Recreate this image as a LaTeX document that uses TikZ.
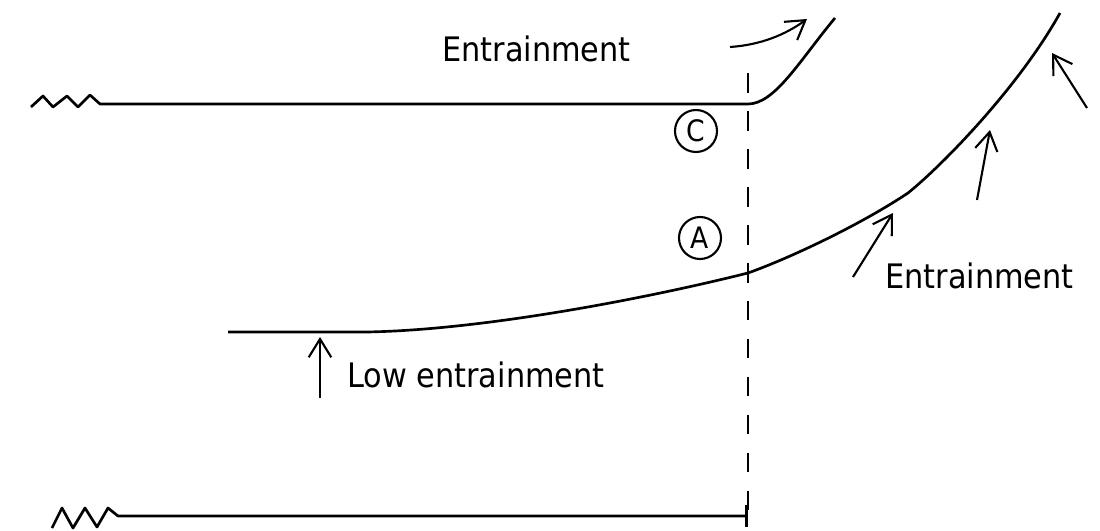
\documentclass[tikz,border=0pt]{standalone}
\usepackage{fontspec}
\setmainfont{DejaVu Sans Condensed}
\usetikzlibrary{arrows.meta}
\begin{document}
\begin{tikzpicture}[x=0.025cm,y=-0.025cm,
  flow/.style={line width=1.9pt,line join=round},
  wind/.style={line width=1.5pt,-{Straight Barb[length=13pt,width=16pt,line width=1.5pt]}},
  wordlabel/.style={font=\fontsize{24}{28}\selectfont,anchor=base west,inner sep=0pt},
  ringmark/.style={circle,draw,line width=1.5pt,minimum size=1.05cm,inner sep=0pt,font=\fontsize{21}{24}\selectfont}]
  \useasboundingbox (0,0) rectangle (1100,531);

  % upper edge with its bend at C
  \coordinate (bendC) at (748,104);
  \coordinate (tipC) at (835,18);
  \draw[flow] (31,107) -- (43,96) -- (53,107) -- (67,96) -- (78,107) -- (90,95) -- (100,104)
    -- (bendC) .. controls (775,104) and (800,60) .. (tipC);

  % lower edge, slowly rising, then bending up
  \coordinate (startA) at (228,332);
  \coordinate (crossA) at (748,273);
  \coordinate (kinkA) at (908,193);
  \coordinate (tipA) at (1060,13);
  \draw[flow] (startA) -- (367,332) .. controls (480,330) and (640,300) .. (crossA)
    .. controls (790,258) and (860,225) .. (kinkA)
    .. controls (945,163) and (1020,85) .. (tipA);

  % floor
  \coordinate (wallend) at (748,516);
  \draw[flow,-{Bar[width=15pt,line width=1.9pt]}] (52,528) -- (62,508) -- (73,528) -- (85,508)
    -- (97,527) -- (108,508) -- (118,516) -- (wallend);

  % section line
  \draw[flow,dash pattern=on 14pt off 13pt] (748,73) -- (wallend);

  \node[ringmark] (C) at (696,131) {C};
  \node[ringmark] (A) at (700,238) {A};

  \node[wordlabel] (entrtop) at (442,62) {Entrainment};
  \node[wordlabel] (entrright) at (885,288) {Entrainment};
  \node[wordlabel] (lowentr) at (347,387) {Low entrainment};

  % entrainment arrows
  \coordinate (w1) at (730,47);   \coordinate (w1t) at (807,19);
  \coordinate (w2) at (853,277);  \coordinate (w2t) at (893,213);
  \coordinate (w3) at (977,200);  \coordinate (w3t) at (990,130);
  \coordinate (w4) at (1087,108); \coordinate (w4t) at (1052,53);
  \coordinate (w5) at (320,398);  \coordinate (w5t) at (320,337);
  \draw[wind] (w1) .. controls (760,45) and (785,35) .. (w1t);
  \draw[wind] (w2) -- (w2t);
  \draw[wind] (w3) -- (w3t);
  \draw[wind] (w4) -- (w4t);
  \draw[wind] (w5) -- (w5t);
\end{tikzpicture}
\end{document}
